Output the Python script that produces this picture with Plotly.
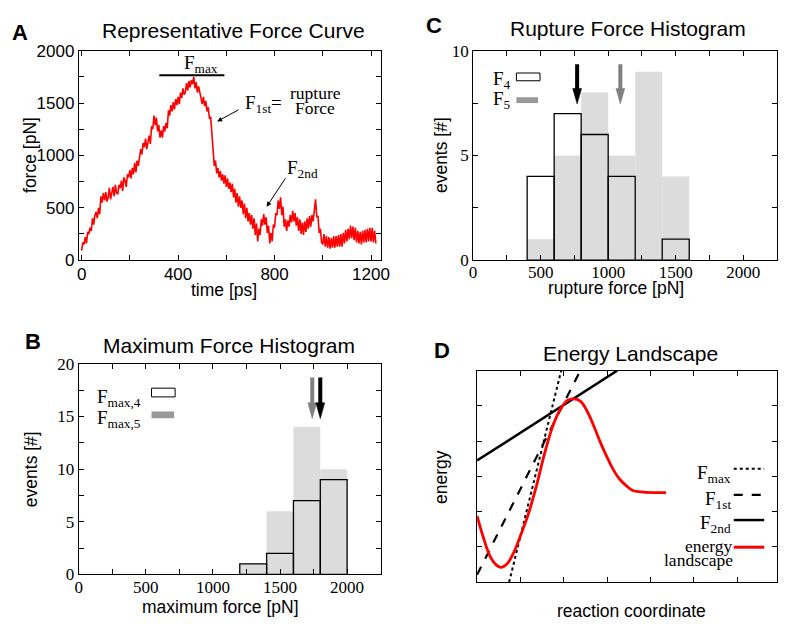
import plotly.graph_objects as go

W, H = 787, 628
SANS = "Liberation Sans, Arial, sans-serif"
SERIF = "Liberation Serif, Times New Roman, serif"

# ---------------- data ----------------
# Panel A: representative force curve (time in ps, force in pN), 5 ps steps
force_t = [i * 5 for i in range(245)]
force_f = [
    90, 170, 150, 220, 160, 270, 250, 310, 280, 400,
    340, 430, 460, 400, 500, 440, 610, 550, 640, 570,
    650, 560, 600, 690, 580, 660, 700, 610, 720, 640,
    630, 720, 690, 760, 660, 790, 760, 700, 820, 790,
    860, 780, 880, 820, 930, 840, 950, 900, 1010, 1060,
    1010, 1120, 1080, 1160, 1060, 1150, 1190, 1110, 1280, 1250,
    1380, 1290, 1360, 1230, 1290, 1170, 1240, 1170, 1280, 1230,
    1310, 1260, 1430, 1380, 1480, 1420, 1510, 1440, 1540, 1480,
    1560, 1490, 1600, 1550, 1640, 1580, 1600, 1690, 1620, 1710,
    1650, 1720, 1680, 1750, 1640, 1700, 1600, 1660, 1590, 1550,
    1490, 1560, 1470, 1520, 1420, 1460, 1350, 1370, 1200, 1040,
    900, 950, 830, 880, 790, 850, 760, 820, 730, 810,
    700, 780, 680, 740, 650, 730, 600, 680, 550, 640,
    510, 610, 500, 570, 440, 540, 400, 500, 370, 450,
    340, 430, 300, 400, 240, 350, 180, 300, 240, 390,
    330, 440, 340, 410, 260, 330, 160, 260, 180, 340,
    310, 450, 430, 570, 490, 600, 430, 510, 320, 390,
    280, 380, 320, 430, 360, 470, 370, 450, 330, 410,
    280, 390, 250, 360, 240, 370, 270, 400, 300, 420,
    320, 430, 370, 480, 580, 410, 420, 260, 300, 170,
    150, 250, 130, 230, 120, 220, 110, 210, 120, 230,
    120, 230, 130, 240, 130, 250, 130, 260, 160, 290,
    180, 300, 200, 330, 210, 320, 190, 310, 170, 280,
    160, 270, 150, 280, 170, 290, 170, 300, 180, 310,
    180, 310, 170, 280, 160,
]
fmax_bar_t = [322, 592]
fmax_bar_f = [1766, 1766]

# Panel B: maximum force histogram (bin centers, counts)
b_bins = [1300, 1500, 1700, 1900]
b_fmax4 = [1, 2, 7, 9]
b_fmax5 = [1, 6, 14, 10]
b_arrow_x = [1740, 1800]  # gray (F_max,5), black (F_max,4)

# Panel C: rupture force histogram
c_bins = [500, 700, 900, 1100, 1300, 1500]
c_f4 = [4, 7, 6, 4, 0, 1]
c_f5 = [1, 5, 8, 5, 9, 4]
c_arrow_x = [770, 1090]  # black (F4), gray (F5)

# Panel D: schematic energy landscape
land_x = [0, 0.135, 0.29, 0.44, 0.55, 0.70, 0.85, 1.0, 1.19, 1.38, 1.56, 1.75,
          1.94, 2.09, 2.24, 2.39, 2.54, 2.69, 2.84, 2.99, 3.14, 3.29, 3.44,
          3.59, 3.78, 4.05, 4.36]
land_y = [1.88, 1.31, 0.76, 0.49, 0.42, 0.53, 0.85, 1.31, 1.96, 2.78, 3.66, 4.44,
          4.94, 5.16, 5.20, 5.13, 4.85, 4.44, 3.98, 3.57, 3.20, 2.92, 2.74,
          2.60, 2.56, 2.54, 2.54]
fmax_line_x = [0.74, 1.94]
fmax_line_y = [0.0, 6.0]
f1st_line_x = [0.0, 2.38]
f1st_line_y = [0.21, 6.0]
f2nd_line_x = [0.0, 3.23]
f2nd_line_y = [3.45, 6.0]


def px(x):
    return x / W


def py(y):
    return 1 - y / H


fig = go.Figure()

# ---- panel A
fig.add_trace(go.Scatter(x=force_t, y=force_f, mode="lines",
                         line=dict(color="#ff0000", width=1.6), xaxis="x", yaxis="y"))
fig.add_trace(go.Scatter(x=fmax_bar_t, y=fmax_bar_f, mode="lines",
                         line=dict(color="black", width=2), xaxis="x", yaxis="y"))

# ---- panel B
fig.add_trace(go.Bar(x=b_bins, y=b_fmax5, width=200, xaxis="x2", yaxis="y2",
                     marker=dict(color="#dcdcdc", line=dict(width=0))))
fig.add_trace(go.Bar(x=b_bins, y=b_fmax4, width=200, xaxis="x2", yaxis="y2",
                     marker=dict(color="rgba(0,0,0,0)", line=dict(color="black", width=1.3))))

# ---- panel C
fig.add_trace(go.Bar(x=c_bins, y=c_f5, width=200, xaxis="x3", yaxis="y3",
                     marker=dict(color="#dcdcdc", line=dict(width=0))))
fig.add_trace(go.Bar(x=c_bins, y=c_f4, width=200, xaxis="x3", yaxis="y3",
                     marker=dict(color="rgba(0,0,0,0)", line=dict(color="black", width=1.3))))

# ---- panel D
fig.add_trace(go.Scatter(x=fmax_line_x, y=fmax_line_y, mode="lines", xaxis="x4", yaxis="y4",
                         line=dict(color="black", width=2, dash="dot")))
fig.add_trace(go.Scatter(x=f1st_line_x, y=f1st_line_y, mode="lines", xaxis="x4", yaxis="y4",
                         line=dict(color="black", width=2.2, dash="dash")))
fig.add_trace(go.Scatter(x=f2nd_line_x, y=f2nd_line_y, mode="lines", xaxis="x4", yaxis="y4",
                         line=dict(color="black", width=2.5)))
fig.add_trace(go.Scatter(x=land_x, y=land_y, mode="lines", xaxis="x4", yaxis="y4",
                         line=dict(color="#ff0000", width=2.8, shape="spline")))


def axis(domain, rng, tickvals, ticktext, font, anchor, show=True, standoff=0):
    d = dict(domain=domain, range=rng, anchor=anchor, showgrid=False, zeroline=False,
             showline=True, linecolor="black", linewidth=1, mirror="allticks",
             ticks="inside", ticklen=5, tickwidth=1, tickcolor="black",
             tickmode="array", tickvals=tickvals, ticktext=ticktext,
             showticklabels=show, tickfont=dict(family=font, size=17, color="black"),
             fixedrange=True)
    if standoff:
        d["ticklabelstandoff"] = standoff
    return d


def lab(vals, step):
    return [("%g" % v) if abs(v / step - round(v / step)) < 1e-9 else "" for v in vals]


a_xt = list(range(0, 1201, 200))
a_yt = list(range(0, 2001, 250))
h_xt = list(range(0, 2001, 250))
b_yt = [i * 2.5 for i in range(9)]
c_yt = [i * 2.5 for i in range(5)]

fig.update_layout(
    width=W, height=H, margin=dict(l=0, r=0, t=0, b=0),
    paper_bgcolor="white", plot_bgcolor="white", showlegend=False, barmode="overlay",
    xaxis=axis([px(76), px(383)], [-12, 1240], a_xt, lab(a_xt, 400), SANS, "y", standoff=-2),
    yaxis=axis([py(259), py(43)], [0, 2000], a_yt, lab(a_yt, 500), SANS, "x"),
    xaxis2=axis([px(76), px(383)], [0, 2250], h_xt, lab(h_xt, 500), SERIF, "y2", standoff=-3),
    yaxis2=axis([py(583), py(366)], [0, 20], b_yt, lab(b_yt, 5), SERIF, "x2"),
    xaxis3=axis([px(477), px(786)], [0, 2250], h_xt, lab(h_xt, 500), SERIF, "y3", standoff=-4),
    yaxis3=axis([py(259), py(43)], [0, 10], c_yt, lab(c_yt, 5), SERIF, "x3"),
    xaxis4=axis([px(481), px(786)], [0, 6.92], [1, 2, 3, 4, 5, 6], None, SERIF, "y4", False),
    yaxis4=axis([py(591), py(373)], [0, 6], [1, 2, 3, 4, 5], None, SERIF, "x4", False),
)

ann = []


def text(x, y, s, font=SANS, size=17, xanchor="center", bold=False, angle=0):
    if bold:
        s = "<b>%s</b>" % s
    ann.append(dict(x=px(x), y=py(y), xref="paper", yref="paper", text=s, showarrow=False,
                    xanchor=xanchor, yanchor="middle", textangle=angle,
                    font=dict(family=font, size=size, color="black")))


# panel letters
text(16, 24, "A", size=22, bold=True)
text(437, 17, "C", size=22, bold=True)
text(29, 343, "B", size=22, bold=True)
text(445, 352, "D", size=22, bold=True)
# titles
text(233, 22, "Representative Force Curve", size=21)
text(634, 20, "Rupture Force Histogram", size=21)
text(229, 347, "Maximum Force Histogram", size=21)
text(637, 355, "Energy Landscape", size=21)
# axis titles
text(224, 290, "time [ps]", size=17.5)
text(27, 151, "force [pN]", size=17.5, angle=-90)
text(220, 617, "maximum force [pN]", size=17.5)
text(27, 475, "events [#]", size=17.5, angle=-90)
text(622, 288, "rupture force [pN]", size=17.5)
text(445, 151, "events [#]", size=17.5, angle=-90)
text(638, 621, "reaction coordinate", size=17.5)
text(445, 483, "energy", size=17.5, angle=-90)

# panel A annotations
text(200, 57, "F<sub>max</sub>", font=SERIF, size=19)
text(243, 98, "F<sub>1st</sub>=", font=SERIF, size=19, xanchor="left")
text(317, 87, "rupture", font=SERIF, size=17.5)
text(316, 102.5, "Force", font=SERIF, size=17.5)
text(304, 165, "F<sub>2nd</sub>", font=SERIF, size=19)
ann.append(dict(x=562, y=1324, ax=657, ay=1444, xref="x", yref="y", axref="x", ayref="y",
                showarrow=True, arrowhead=2, arrowsize=1, arrowwidth=1, arrowcolor="black", text=""))
ann.append(dict(x=767, y=509, ax=849, ay=796, xref="x", yref="y", axref="x", ayref="y",
                showarrow=True, arrowhead=2, arrowsize=1, arrowwidth=1, arrowcolor="black", text=""))

# legends B and C
text(93, 401, "F<sub>max,4</sub>", font=SERIF, size=19, xanchor="left")
text(93, 423, "F<sub>max,5</sub>", font=SERIF, size=19, xanchor="left")
text(495, 73, "F<sub>4</sub>", font=SERIF, size=19, xanchor="left")
text(495, 94, "F<sub>5</sub>", font=SERIF, size=19, xanchor="left")

# legend D
text(741, 479, "F<sub>max</sub>", font=SERIF, size=19, xanchor="right")
text(741, 506, "F<sub>1st</sub>", font=SERIF, size=19, xanchor="right")
text(741, 531, "F<sub>2nd</sub>", font=SERIF, size=19, xanchor="right")
text(743, 554, "energy", font=SERIF, size=17.5, xanchor="right")
text(743, 568, "landscape", font=SERIF, size=17.5, xanchor="right")

fig.update_layout(annotations=ann)

shapes = []


def rect(x0, y0, x1, y1, fill, line):
    shapes.append(dict(type="rect", xref="paper", yref="paper", x0=px(x0), x1=px(x1),
                       y0=py(y1), y1=py(y0), fillcolor=fill,
                       line=dict(color=line if line else "rgba(0,0,0,0)", width=1 if line else 0)))


rect(150, 391, 174, 400, "white", "black")
rect(150, 415, 173, 422, "#999999", None)
rect(521, 66, 545, 74, "white", "black")
rect(521, 91, 543, 97, "#999999", None)


def seg(x0, x1, y, color, width, dash="solid"):
    shapes.append(dict(type="line", xref="paper", yref="paper", x0=px(x0), x1=px(x1),
                       y0=py(y), y1=py(y), line=dict(color=color, width=width, dash=dash)))


seg(742, 773, 474, "black", 2, "dot")
seg(742, 773, 501, "black", 2.2, "dash")
seg(742, 773, 527, "black", 2.5)
seg(742, 773, 555, "#ff0000", 3)


def arrow(xr, yr, x, ytop, ytip, color, halfw, headlen):
    shapes.append(dict(type="line", xref=xr, yref=yr, x0=x, x1=x, y0=ytop, y1=ytip + headlen * 0.8,
                       line=dict(color=color, width=4)))
    path = "M %g,%g L %g,%g L %g,%g Z" % (x - halfw, ytip + headlen, x + halfw, ytip + headlen, x, ytip)
    shapes.append(dict(type="path", xref=xr, yref=yr, path=path, fillcolor=color,
                       line=dict(color=color, width=0.5)))


# panel C: black arrow at F4 mean, gray arrow at F5 mean
arrow("x3", "y3", c_arrow_x[0], 9.35, 7.45, "black", 33, 0.75)
arrow("x3", "y3", c_arrow_x[1], 9.35, 7.45, "#808080", 33, 0.75)
# panel B
arrow("x2", "y2", b_arrow_x[0], 18.7, 14.8, "#808080", 33, 1.5)
arrow("x2", "y2", b_arrow_x[1], 18.7, 14.8, "black", 33, 1.5)

fig.update_layout(shapes=shapes)

fig.write_html("out.html")
